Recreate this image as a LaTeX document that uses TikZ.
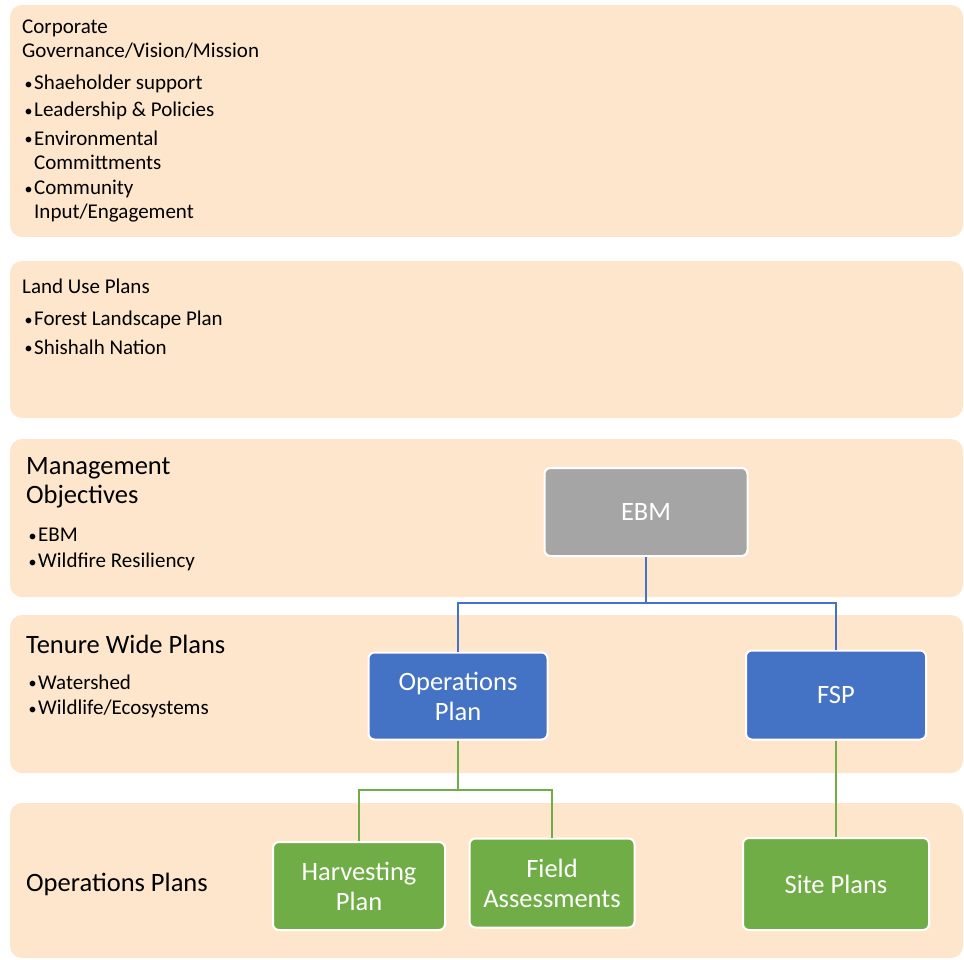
\documentclass[tikz,border=0pt]{standalone}
\usepackage{fontspec}
\setmainfont{Carlito}
\definecolor{band}{HTML}{FEE6CD}
\definecolor{ebmgrey}{HTML}{A5A5A5}
\definecolor{opblue}{HTML}{4472C4}
\definecolor{opgreen}{HTML}{70AD47}
\newcommand{\bul}{\makebox[10pt][l]{\hspace{0.5pt}\raisebox{0.5pt}{\fontsize{16}{16}\selectfont\textbullet}}}
\begin{document}
\begin{tikzpicture}[x=1pt,y=-1pt,
  bandbox/.style={fill=band, draw=none, rounded corners=12pt},
  smalltxt/.style={anchor=west, inner sep=0pt, font=\fontsize{21}{23}\selectfont, align=left},
  bigtxt/.style={anchor=west, inner sep=0pt, font=\fontsize{26.5}{29}\selectfont, align=left},
  boxnode/.style={draw=white, line width=2pt, rounded corners=6pt, text=white, align=center, font=\fontsize{26.5}{30}\selectfont},
  greybox/.style={boxnode, fill=ebmgrey},
  bluebox/.style={boxnode, fill=opblue},
  greenbox/.style={boxnode, fill=opgreen},
  blueline/.style={draw=opblue, line width=2pt},
  greenline/.style={draw=opgreen, line width=2pt}]
\useasboundingbox (0,0) rectangle (964,960);
\clip (0,0) rectangle (964,960);
% bands
\path[bandbox] (10,5) rectangle (963,237);
\path[bandbox] (10,261) rectangle (963,418);
\path[bandbox] (10,439) rectangle (963,597);
\path[bandbox] (10,615) rectangle (963,773);
\path[bandbox] (10,803) rectangle (963,958);
% band 1 text
\node[smalltxt] (t1a) at (22,28) {Corporate};
\node[smalltxt] (t1b) at (22,51) {Governance/Vision/Mission};
\node[smalltxt] (b1a) at (24,84) {\bul Shaeholder support};
\node[smalltxt] (b1b) at (24,111) {\bul Leadership \& Policies};
\node[smalltxt] (b1c) at (24,138) {\bul Environmental};
\node[smalltxt] (b1d) at (34,162) {Committments};
\node[smalltxt] (b1e) at (24,189) {\bul Community};
\node[smalltxt] (b1f) at (34,213) {Input/Engagement};
% band 2 text
\node[smalltxt] (t2) at (22,286) {Land Use Plans};
\node[smalltxt] (b2a) at (24,320) {\bul Forest Landscape Plan};
\node[smalltxt] (b2b) at (24,347) {\bul Shishalh Nation};
% band 3 text
\node[bigtxt] (t3a) at (26,468) {Management};
\node[bigtxt] (t3b) at (26,497) {Objectives};
\node[smalltxt] (b3a) at (28,535) {\bul EBM};
\node[smalltxt] (b3b) at (28,562) {\bul Wildfire Resiliency};
% band 4 text
\node[bigtxt] (t4) at (26,644) {Tenure Wide Plans};
\node[smalltxt] (b4a) at (28,682) {\bul Watershed};
\node[smalltxt] (b4b) at (28,709) {\bul Wildlife/Ecosystems};
% band 5 text
\node[bigtxt] (t5) at (26,884) {Operations Plans};
% boxes
\node[greybox, minimum width=203pt, minimum height=88pt] (ebm) at (646,512) {EBM};
\node[bluebox, minimum width=179pt, minimum height=87pt] (ops) at (458,696) {Operations\\Plan};
\node[bluebox, minimum width=180pt, minimum height=89pt] (fsp) at (836,695) {FSP};
\node[greenbox, minimum width=172pt, minimum height=88pt] (harv) at (359,886) {Harvesting\\Plan};
\node[greenbox, minimum width=165pt, minimum height=89pt] (field) at (552,883) {Field\\Assessments};
\node[greenbox, minimum width=186pt, minimum height=92pt] (site) at (836,884) {Site Plans};
% connectors
\coordinate (bj) at (646,603);
\coordinate (gj) at (458,790);
\draw[blueline] (ebm.south) -- (bj) -| (ops.north);
\draw[blueline] (bj) -| (fsp.north);
\draw[greenline] (ops.south) -- (gj) -| (harv.north);
\draw[greenline] (gj) -| (field.north);
\draw[greenline] (fsp.south) -- (site.north);
\end{tikzpicture}
\end{document}
